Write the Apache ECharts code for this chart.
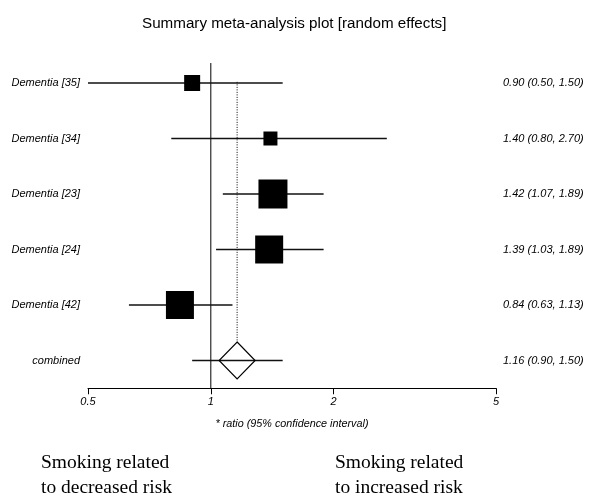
<!DOCTYPE html>
<html>
<head>
<meta charset="utf-8">
<script src="https://cdn.jsdelivr.net/npm/echarts@6/dist/echarts.min.js"></script>
<style>html,body{margin:0;padding:0;background:#fff}#c{width:600px;height:504px}</style>
</head>
<body>
<div id="c"></div>
<script>
// ---- data ----
const studies = ['Dementia [35]', 'Dementia [34]', 'Dementia [23]', 'Dementia [24]', 'Dementia [42]', 'combined'];
const estimates = [0.90, 1.40, 1.42, 1.39, 0.84, 1.16];
const lower = [0.50, 0.80, 1.07, 1.03, 0.63, 0.90];
const upper = [1.50, 2.70, 1.89, 1.89, 1.13, 1.50];
const xTicks = [0.5, 1, 2, 5];
const nullValue = 1;

// ---- styles ----
const boxSizes = [16, 14, 29, 28, 28];
const rows = studies.map((_, i) => i);
const pooledIdx = studies.length - 1;
const fmt = v => v.toFixed(2);
const rightLabels = studies.map((_, i) => fmt(estimates[i]) + ' (' + fmt(lower[i]) + ', ' + fmt(upper[i]) + ')');

const chart = echarts.init(document.getElementById('c'), null, {renderer: 'canvas'});
const yMin = -0.5, yMax = 5.5;
const FONT = 'Liberation Sans, Arial';

chart.setOption({
  animation: false,
  backgroundColor: '#fff',
  title: {
    text: 'Summary meta-analysis plot [random effects]',
    left: 137, top: 11,
    textStyle: {fontFamily: FONT, fontSize: 15.2, fontWeight: 'normal', color: '#000'}
  },
  grid: {left: 88, right: 104, top: 55.25, height: 333},
  xAxis: {
    type: 'log', logBase: 10, min: 0.5, max: 5,
    axisLine: {show: true, onZero: false, lineStyle: {color: '#000', width: 1}},
    axisTick: {show: true, length: 6, lineStyle: {color: '#000'}, customValues: xTicks},
    axisLabel: {customValues: xTicks, formatter: v => String(+v.toFixed(2)), fontStyle: 'italic', fontSize: 11,
      fontFamily: FONT, color: '#000', margin: 8},
    splitLine: {show: false},
    minorTick: {show: false},
    name: '* ratio (95% confidence interval)',
    nameLocation: 'middle', nameGap: 30,
    nameTextStyle: {fontStyle: 'italic', fontSize: 10.8, fontFamily: FONT, color: '#000'}
  },
  yAxis: [{
    type: 'value', inverse: true, min: yMin, max: yMax, position: 'left',
    axisLine: {show: false}, axisTick: {show: false}, splitLine: {show: false},
    axisLabel: {customValues: rows, formatter: v => studies[Math.round(v)] || '', fontStyle: 'italic', fontSize: 11,
      fontFamily: FONT, color: '#000', margin: 8}
  }, {
    type: 'value', inverse: true, min: yMin, max: yMax, position: 'right',
    axisLine: {show: false}, axisTick: {show: false}, splitLine: {show: false},
    axisLabel: {customValues: rows, formatter: v => rightLabels[Math.round(v)] || '', fontStyle: 'italic', fontSize: 11,
      fontFamily: FONT, color: '#000', margin: 7}
  }],
  series: [
    {
      type: 'line', symbol: 'none', silent: true, z: 1,
      data: [[nullValue, -0.36], [nullValue, yMax]],
      lineStyle: {color: '#000', width: 1}
    },
    {
      type: 'line', symbol: 'none', silent: true, z: 1,
      data: [[estimates[pooledIdx], -0.02], [estimates[pooledIdx], pooledIdx - 0.33]],
      lineStyle: {color: '#000', width: 1, type: [1, 1.5]}
    },
    {
      type: 'custom', z: 2, silent: true,
      data: rows.map(i => [lower[i], upper[i], i]),
      renderItem: (params, api) => {
        const a = api.coord([api.value(0), api.value(2)]);
        const b = api.coord([api.value(1), api.value(2)]);
        return {type: 'line', shape: {x1: a[0], y1: a[1], x2: b[0], y2: b[1]},
          style: {stroke: '#111', lineWidth: 1.3}};
      }
    },
    {
      type: 'scatter', z: 3, silent: true,
      data: rows.slice(0, pooledIdx).map(i => ({value: [estimates[i], i], symbolSize: boxSizes[i]})),
      symbol: 'rect',
      itemStyle: {color: '#000', opacity: 1}
    },
    {
      type: 'scatter', z: 3, silent: true,
      data: [[estimates[pooledIdx], pooledIdx]],
      symbol: 'diamond', symbolSize: [36, 37],
      itemStyle: {color: 'rgba(0,0,0,0)', borderColor: '#000', borderWidth: 1.2, opacity: 1}
    }
  ],
  graphic: [
    {type: 'text', left: 41, top: 450, style: {text: 'Smoking related\nto decreased risk',
      font: '19.5px "Liberation Serif", "Times New Roman", serif', fill: '#000', lineHeight: 25}},
    {type: 'text', left: 335, top: 450, style: {text: 'Smoking related\nto increased risk',
      font: '19.5px "Liberation Serif", "Times New Roman", serif', fill: '#000', lineHeight: 25}}
  ]
});
</script>
</body>
</html>
